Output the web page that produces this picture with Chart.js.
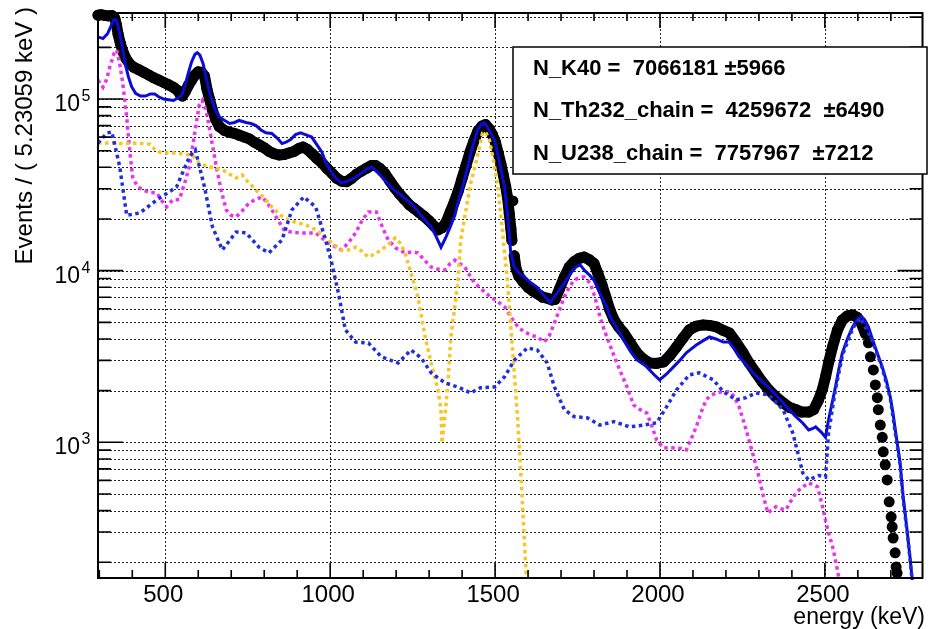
<!DOCTYPE html>
<html>
<head>
<meta charset="utf-8">
<script src="https://cdn.jsdelivr.net/npm/chart.js@4.4.0/dist/chart.umd.min.js"></script>
<style>
  html, body { margin: 0; padding: 0; background: #fff; }
  #wrap { width: 928px; height: 629px; }
</style>
</head>
<body>
<div id="wrap"><canvas id="spectrum"></canvas></div>
<script>
// measured spectrum (events per 5.23 keV bin)
const dataKeV = [296,305,316,327,338,347,352,357,364,371,380,392,405,420,435,450,465,480,495,510,525,538,546,552,560,570,580,590,600,610,619,626,634,643,653,664,680,695,710,725,740,755,770,785,800,815,830,845,860,875,890,905,918,930,945,960,975,990,1005,1020,1035,1050,1065,1080,1095,1110,1125,1137,1150,1165,1180,1195,1210,1225,1240,1255,1270,1285,1300,1315,1327,1340,1352,1364,1376,1388,1400,1412,1424,1436,1448,1460,1471,1482,1492,1501,1510,1518,1525,1532,1538,1543,1548,1551,1554,1558,1564,1572,1585,1600,1615,1630,1645,1660,1672,1682,1695,1710,1725,1740,1755,1770,1785,1800,1812,1824,1836,1848,1860,1875,1890,1910,1930,1950,1969,1990,2011,2030,2050,2070,2089,2110,2131,2150,2171,2190,2210,2230,2252,2270,2291,2310,2330,2350,2373,2392,2412,2430,2451,2466,2481,2493,2502,2512,2523,2538,2553,2568,2584,2598,2610,2623,2632,2638,2647,2653,2659,2662,2668,2674,2677,2683,2689,2695,2701,2704,2707,2713,2716,2719];
const dataCounts = [3.08e5,3.1e5,3.07e5,3.05e5,3.07e5,2.95e5,2.7e5,2.38e5,2.1e5,1.9e5,1.73e5,1.6e5,1.53e5,1.48e5,1.43e5,1.38e5,1.33e5,1.29e5,1.25e5,1.21e5,1.17e5,1.12e5,1.06e5,1.04e5,1.1e5,1.2e5,1.29e5,1.38e5,1.44e5,1.43e5,1.36e5,1.15e5,1.0e5,8.6e4,7.6e4,6.9e4,6.55e4,6.4e4,6.3e4,6.15e4,6.0e4,5.85e4,5.6e4,5.4e4,5.2e4,4.95e4,4.8e4,4.72e4,4.75e4,4.85e4,4.95e4,5.15e4,5.25e4,5.1e4,4.8e4,4.5e4,4.25e4,3.95e4,3.7e4,3.45e4,3.32e4,3.3e4,3.45e4,3.65e4,3.8e4,3.95e4,4.1e4,4.1e4,3.95e4,3.7e4,3.35e4,3.05e4,2.8e4,2.6e4,2.42e4,2.3e4,2.18e4,2.07e4,1.95e4,1.82e4,1.73e4,1.78e4,1.92e4,2.2e4,2.5e4,2.9e4,3.45e4,4.1e4,4.9e4,5.7e4,6.5e4,6.95e4,7.1e4,6.7e4,6.2e4,5.6e4,4.8e4,4.15e4,3.6e4,3.1e4,2.65e4,2.15e4,1.75e4,1.5e4,2.55e4,1.22e4,1.02e4,9.3e3,8.6e3,8.0e3,7.6e3,7.3e3,7.0e3,6.9e3,6.75e3,6.8e3,7.8e3,9.2e3,1.05e4,1.13e4,1.18e4,1.2e4,1.16e4,1.1e4,9.6e3,8.3e3,7.0e3,5.9e3,5.2e3,4.7e3,4.34e3,3.8e3,3.32e3,3.05e3,2.9e3,2.88e3,2.94e3,3.2e3,3.59e3,4.05e3,4.52e3,4.75e3,4.83e3,4.8e3,4.7e3,4.5e3,4.34e3,3.85e3,3.32e3,2.9e3,2.54e3,2.25e3,2.02e3,1.85e3,1.7e3,1.6e3,1.55e3,1.5e3,1.5e3,1.55e3,1.77e3,2.05e3,2.41e3,2.95e3,3.59e3,4.5e3,5.16e3,5.45e3,5.52e3,5.35e3,4.96e3,4.3e3,3.8e3,3.15e3,2.64e3,2.16e3,1.82e3,1.55e3,1.26e3,1.07e3,880,740,604,450,368,322,277,227,188,173];

// total fit (solid blue)
const totalKeV = [296,311,325,335,344,350,356,362,370,377,388,398,410,425,440,455,468,480,495,510,525,540,550,560,570,580,590,597,605,615,625,637,650,664,680,695,710,724,745,760,775,790,805,823,840,854,866,880,895,910,925,944,960,975,986,1000,1015,1034,1050,1065,1077,1095,1110,1125,1140,1155,1170,1185,1200,1215,1230,1245,1260,1275,1290,1306,1320,1336,1350,1364,1378,1390,1404,1417,1432,1447,1458,1468,1478,1490,1499,1510,1520,1529,1538,1547,1558,1575,1589,1605,1628,1645,1667,1690,1710,1730,1745,1758,1772,1787,1800,1820,1839,1848,1870,1890,1910,1930,1945,1960,1980,1999,2020,2041,2060,2080,2095,2110,2130,2150,2170,2192,2210,2225,2240,2260,2282,2305,2330,2350,2373,2392,2412,2432,2451,2462,2472,2488,2502,2511,2522,2532,2542,2553,2568,2584,2598,2610,2620,2632,2644,2659,2674,2686,2698,2706,2713,2720,2728,2737,2743,2749,2758,2764,2770];
const totalCounts = [2.3e5,2.25e5,2.4e5,2.65e5,2.9e5,2.9e5,2.7e5,2.4e5,2.0e5,1.65e5,1.35e5,1.18e5,1.08e5,1.04e5,1.04e5,1.07e5,1.07e5,1.03e5,1.0e5,9.9e4,9.8e4,1.02e5,1.05e5,1.2e5,1.42e5,1.65e5,1.82e5,1.86e5,1.8e5,1.6e5,1.3e5,1.05e5,8.8e4,7.85e4,7.5e4,7.2e4,7.3e4,7.5e4,7.3e4,7.2e4,7.0e4,6.6e4,6.35e4,6.3e4,5.9e4,5.5e4,5.6e4,5.8e4,6.2e4,6.35e4,6.2e4,6.0e4,5.4e4,4.9e4,4.3e4,3.85e4,3.5e4,3.24e4,3.3e4,3.4e4,3.5e4,3.7e4,3.9e4,4.02e4,3.8e4,3.55e4,3.3e4,3.07e4,2.9e4,2.75e4,2.6e4,2.48e4,2.3e4,2.1e4,1.95e4,1.8e4,1.6e4,1.37e4,1.55e4,1.8e4,2.1e4,2.6e4,3.2e4,4.02e4,5.3e4,6.6e4,7.1e4,7.25e4,6.8e4,6.2e4,5.7e4,4.6e4,3.7e4,3.05e4,2.1e4,1.3e4,1.05e4,9.6e3,9.2e3,8.6e3,8.0e3,7.3e3,6.5e3,7.5e3,8.5e3,9.7e3,1.05e4,1.08e4,1.0e4,9.4e3,8.8e3,7.2e3,6.15e3,5.4e3,4.6e3,3.95e3,3.4e3,3.02e3,2.9e3,2.75e3,2.5e3,2.31e3,2.5e3,2.75e3,3.0e3,3.32e3,3.5e3,3.69e3,3.9e3,4.11e3,4.0e3,3.84e3,3.84e3,3.5e3,3.15e3,2.85e3,2.54e3,2.3e3,2.08e3,1.9e3,1.7e3,1.55e3,1.41e3,1.3e3,1.18e3,1.2e3,1.23e3,1.15e3,1.07e3,1.35e3,1.7e3,2.1e3,2.65e3,3.32e3,4.0e3,4.7e3,5.2e3,5.4e3,5.2e3,4.7e3,4.0e3,3.3e3,2.75e3,2.3e3,1.85e3,1.5e3,1.2e3,970,760,490,390,310,215,165,125];

// Th232 chain component (magenta)
const thKeV = [296,311,322,332,345,353,362,371,383,392,401,415,432,455,474,490,504,522,543,560,573,585,594,603,612,620,628,640,655,670,685,700,715,735,754,775,793,808,823,840,860,880,905,930,956,975,995,1015,1034,1055,1077,1096,1116,1140,1158,1176,1200,1227,1245,1266,1286,1306,1327,1348,1364,1378,1393,1408,1423,1438,1462,1486,1508,1529,1545,1559,1575,1589,1610,1628,1649,1665,1680,1695,1710,1725,1740,1755,1770,1788,1803,1818,1833,1848,1863,1878,1900,1920,1940,1960,1975,1990,2011,2030,2050,2065,2080,2095,2110,2125,2140,2155,2171,2190,2210,2225,2240,2255,2270,2285,2300,2313,2327,2340,2351,2366,2382,2397,2412,2430,2451,2465,2478,2493,2502,2511,2520,2526,2532,2538,2545];
const thCounts = [1.29e5,1.17e5,1.3e5,1.54e5,1.85e5,1.93e5,1.6e5,1.24e5,7.85e4,5.05e4,3.51e4,3.1e4,2.95e4,2.85e4,2.84e4,2.55e4,2.35e4,2.58e4,2.6e4,3.3e4,4.02e4,5.6e4,7.25e4,9.2e4,9.8e4,9.0e4,7.85e4,5.8e4,4.02e4,2.9e4,2.26e4,2.1e4,2.06e4,2.25e4,2.48e4,2.6e4,2.69e4,2.5e4,2.26e4,2.0e4,1.73e4,1.68e4,1.66e4,1.66e4,1.66e4,1.55e4,1.45e4,1.38e4,1.32e4,1.45e4,1.66e4,1.95e4,2.2e4,2.2e4,1.8e4,1.51e4,1.35e4,1.27e4,1.28e4,1.27e4,1.15e4,1.05e4,1.02e4,1.01e4,1.1e4,1.15e4,1.1e4,1.05e4,9.4e3,8.48e3,7.7e3,7.03e3,6.6e3,6.15e3,5.5e3,4.96e3,4.6e3,4.4e3,4.2e3,4.11e3,3.84e3,4.2e3,4.96e3,5.9e3,7.03e3,8.0e3,8.83e3,9.1e3,9.19e3,8.48e3,7.0e3,5.38e3,4.4e3,3.7e3,3.1e3,2.64e3,2.1e3,1.65e3,1.55e3,1.48e3,1.25e3,1.03e3,927,930,927,920,903,1.05e3,1.23e3,1.5e3,1.77e3,1.88e3,1.94e3,1.97e3,1.97e3,1.85e3,1.61e3,1.3e3,1.03e3,810,629,490,388,405,421,410,404,455,507,545,580,565,550,421,350,297,260,236,205,181,150];

// K40 component (yellow)
const kKeV = [296,320,341,370,401,430,453,468,483,510,534,560,582,603,620,634,655,673,695,715,733,750,775,800,823,850,875,900,926,956,975,995,1015,1034,1055,1077,1096,1116,1135,1155,1176,1197,1212,1227,1245,1266,1288,1306,1327,1336,1339,1348,1357,1366,1377,1387,1396,1408,1426,1437,1447,1462,1471,1483,1495,1508,1523,1538,1553,1568,1577,1589,1595];
const kCounts = [5.54e4,5.54e4,5.54e4,5.5e4,5.54e4,5.5e4,5.45e4,5.1e4,4.9e4,4.85e4,4.85e4,4.75e4,4.72e4,4.24e4,4.1e4,4.02e4,3.95e4,3.86e4,3.65e4,3.47e4,3.61e4,3.3e4,2.95e4,2.65e4,2.35e4,2.1e4,1.97e4,1.9e4,1.85e4,1.73e4,1.62e4,1.51e4,1.4e4,1.32e4,1.32e4,1.37e4,1.3e4,1.2e4,1.25e4,1.32e4,1.42e4,1.55e4,1.45e4,1.27e4,9.7e3,7.03e3,4.11e3,2.9e3,2.02e3,1.55e3,991,1.41e3,2.22e3,4.11e3,6.0e3,8.48e3,1.51e4,2.06e4,3.24e4,3.9e4,4.72e4,6.34e4,6.43e4,5.77e4,4.4e4,3.15e4,1.66e4,8.48e3,3.45e3,1.41e3,720,266,160];

// U238 chain component (dotted blue)
const uKeV = [296,323,338,362,383,423,474,534,573,591,619,643,673,715,745,784,814,854,884,920,956,986,1004,1025,1046,1077,1116,1155,1206,1245,1276,1306,1348,1387,1426,1456,1499,1529,1559,1598,1628,1658,1680,1710,1740,1779,1818,1860,1908,1951,1990,2020,2050,2089,2119,2162,2192,2231,2261,2291,2330,2373,2403,2433,2451,2481,2502,2511,2532,2553,2584,2608,2644,2674,2698,2713,2728,2737,2749,2758,2764];
const uCounts = [5.54e4,6.34e4,6.43e4,4.02e4,2.1e4,2.17e4,2.58e4,3.07e4,4.6e4,5.05e4,3.07e4,1.8e4,1.32e4,1.68e4,1.66e4,1.37e4,1.27e4,1.51e4,2.26e4,2.69e4,2.35e4,1.51e4,1.12e4,7.41e3,4.52e3,3.84e3,3.79e3,3.15e3,2.9e3,3.45e3,3.1e3,2.54e3,2.22e3,2.1e3,1.94e3,2.08e3,2.1e3,2.41e3,3.02e3,3.55e3,3.45e3,2.9e3,2.1e3,1.55e3,1.41e3,1.39e3,1.26e3,1.32e3,1.23e3,1.26e3,1.3e3,1.61e3,2.02e3,2.47e3,2.54e3,2.31e3,1.97e3,1.77e3,1.82e3,1.94e3,1.89e3,1.55e3,1.13e3,663,604,640,629,1.13e3,2.02e3,3.2e3,4.6e3,5.3e3,3.9e3,2.7e3,1.82e3,1.15e3,740,470,305,210,160];

// axis ticks
const xMajorTicks = [500, 1000, 1500, 2000, 2500];
const xMinorTicks = [300,400,600,700,800,900,1100,1200,1300,1400,1600,1700,1800,1900,2100,2200,2300,2400,2600,2700];
const yDecades = [1e3, 1e4, 1e5];
const yMinorTicks = [200,300,400,500,600,700,800,900,2e3,3e3,4e3,5e3,6e3,7e3,8e3,9e3,2e4,3e4,4e4,5e4,6e4,7e4,8e4,9e4,2e5,3e5];

// fit results box
const fitLines = [
  'N_K40 =  7066181 \u00b15966',
  'N_Th232_chain =  4259672  \u00b16490',
  'N_U238_chain =  7757967  \u00b17212'
];

const FONT = '"Liberation Sans", Arial, Helvetica, sans-serif';
const toPoints = (xs, ys) => xs.map((x, i) => ({ x: x, y: ys[i] }));

const rootFrame = {
  id: 'rootFrame',
  beforeDatasetsDraw(chart) {
    const { ctx, chartArea: a, scales: { x, y } } = chart;
    ctx.save();
    ctx.strokeStyle = '#222';
    ctx.lineWidth = 1;
    ctx.setLineDash([2, 2]);
    ctx.beginPath();
    xMajorTicks.forEach(v => {
      const px = Math.round(x.getPixelForValue(v)) + 0.5;
      ctx.moveTo(px, a.top);
      ctx.lineTo(px, a.bottom);
    });
    yDecades.concat(yMinorTicks).forEach(v => {
      const py = Math.round(y.getPixelForValue(v)) + 0.5;
      if (py < a.top || py > a.bottom) return;
      ctx.moveTo(a.left, py);
      ctx.lineTo(a.right, py);
    });
    ctx.stroke();
    ctx.restore();
  },
  afterDatasetsDraw(chart) {
    const { ctx, chartArea: a, scales: { x, y } } = chart;
    ctx.save();
    ctx.strokeStyle = '#000';
    ctx.fillStyle = '#000';

    // ticks, drawn inward on all four sides
    ctx.lineWidth = 1.6;
    ctx.beginPath();
    const xTick = (v, len) => {
      const px = x.getPixelForValue(v);
      ctx.moveTo(px, a.bottom); ctx.lineTo(px, a.bottom - len);
      ctx.moveTo(px, a.top); ctx.lineTo(px, a.top + len);
    };
    const yTick = (v, len) => {
      const py = y.getPixelForValue(v);
      if (py < a.top || py > a.bottom) return;
      ctx.moveTo(a.left, py); ctx.lineTo(a.left + len, py);
      ctx.moveTo(a.right, py); ctx.lineTo(a.right - len, py);
    };
    xMajorTicks.forEach(v => xTick(v, 15));
    xMinorTicks.forEach(v => xTick(v, 8));
    yDecades.forEach(v => yTick(v, 25));
    yMinorTicks.forEach(v => yTick(v, 13));
    ctx.stroke();

    // frame
    ctx.lineWidth = 2;
    ctx.strokeRect(a.left, a.top, a.right - a.left, a.bottom - a.top);

    // fit results box
    ctx.fillStyle = '#fff';
    ctx.fillRect(513, 47, 414, 127);
    ctx.lineWidth = 1.5;
    ctx.strokeRect(513, 47, 414, 127);
    ctx.fillStyle = '#000';
    ctx.font = 'bold 22px ' + FONT;
    ctx.textAlign = 'left';
    ctx.textBaseline = 'alphabetic';
    [75, 117, 160].forEach((by, i) => ctx.fillText(fitLines[i], 533, by));

    // x labels
    ctx.font = '24px ' + FONT;
    ctx.textAlign = 'center';
    xMajorTicks.forEach(v => ctx.fillText(String(v), x.getPixelForValue(v) - 2, 602));

    // y labels 10^n
    yDecades.forEach(v => {
      const py = y.getPixelForValue(v);
      ctx.font = '23px ' + FONT;
      ctx.textAlign = 'right';
      ctx.fillText('10', 80, py + 12);
      ctx.font = '16px ' + FONT;
      ctx.textAlign = 'left';
      ctx.fillText(String(Math.round(Math.log10(v))), 81.5, py + 2);
    });

    // axis titles
    ctx.font = '23px ' + FONT;
    ctx.textAlign = 'right';
    ctx.fillText('energy (keV)', 925, 624);
    ctx.save();
    ctx.translate(32, 7);
    ctx.rotate(-Math.PI / 2);
    ctx.font = '24px ' + FONT;
    ctx.fillText('Events / ( 5.23059 keV )', 0, 0);
    ctx.restore();

    ctx.restore();
  }
};

const dotted = (label, xs, ys, color, order) => ({
  label: label,
  data: toPoints(xs, ys),
  borderColor: color,
  borderWidth: 3.5,
  borderDash: [3.5, 3.5],
  pointRadius: 0,
  tension: 0,
  order: order,
  clip: 1
});

new Chart(document.getElementById('spectrum'), {
  type: 'line',
  data: {
    datasets: [
      {
        label: 'data',
        data: toPoints(dataKeV, dataCounts),
        borderColor: '#000',
        borderWidth: 11,
        borderJoinStyle: 'round',
        borderCapStyle: 'round',
        pointRadius: 5.5,
        pointBorderWidth: 0,
        pointBackgroundColor: '#000',
        tension: 0,
        order: 5,
        clip: 8,
        segment: {
          // separate markers where the spectrum falls steeply, as the bins do
          borderColor: c => (c.p0.parsed.x >= 2620 || Math.abs(c.p1.y - c.p0.y) > 20) ? 'rgba(0,0,0,0)' : '#000'
        }
      },
      {
        label: 'total',
        data: toPoints(totalKeV, totalCounts),
        borderColor: '#0b0bd6',
        borderWidth: 3,
        pointRadius: 0,
        tension: 0,
        order: 4,
        clip: 2
      },
      dotted('Th232_chain', thKeV, thCounts, '#ec32ec', 3),
      dotted('K40', kKeV, kCounts, '#f6c622', 2),
      dotted('U238_chain', uKeV, uCounts, '#1f2fe0', 1)
    ]
  },
  options: {
    responsive: true,
    maintainAspectRatio: false,
    animation: false,
    devicePixelRatio: 1,
    events: [],
    layout: { padding: { left: 98, top: 13, right: 1, bottom: 51 } },
    plugins: { legend: { display: false }, tooltip: { enabled: false } },
    scales: {
      x: { type: 'linear', min: 296, max: 2796, display: false },
      y: { type: 'logarithmic', min: 162, max: 3.17e5, display: false }
    }
  },
  plugins: [rootFrame]
});
</script>
</body>
</html>
